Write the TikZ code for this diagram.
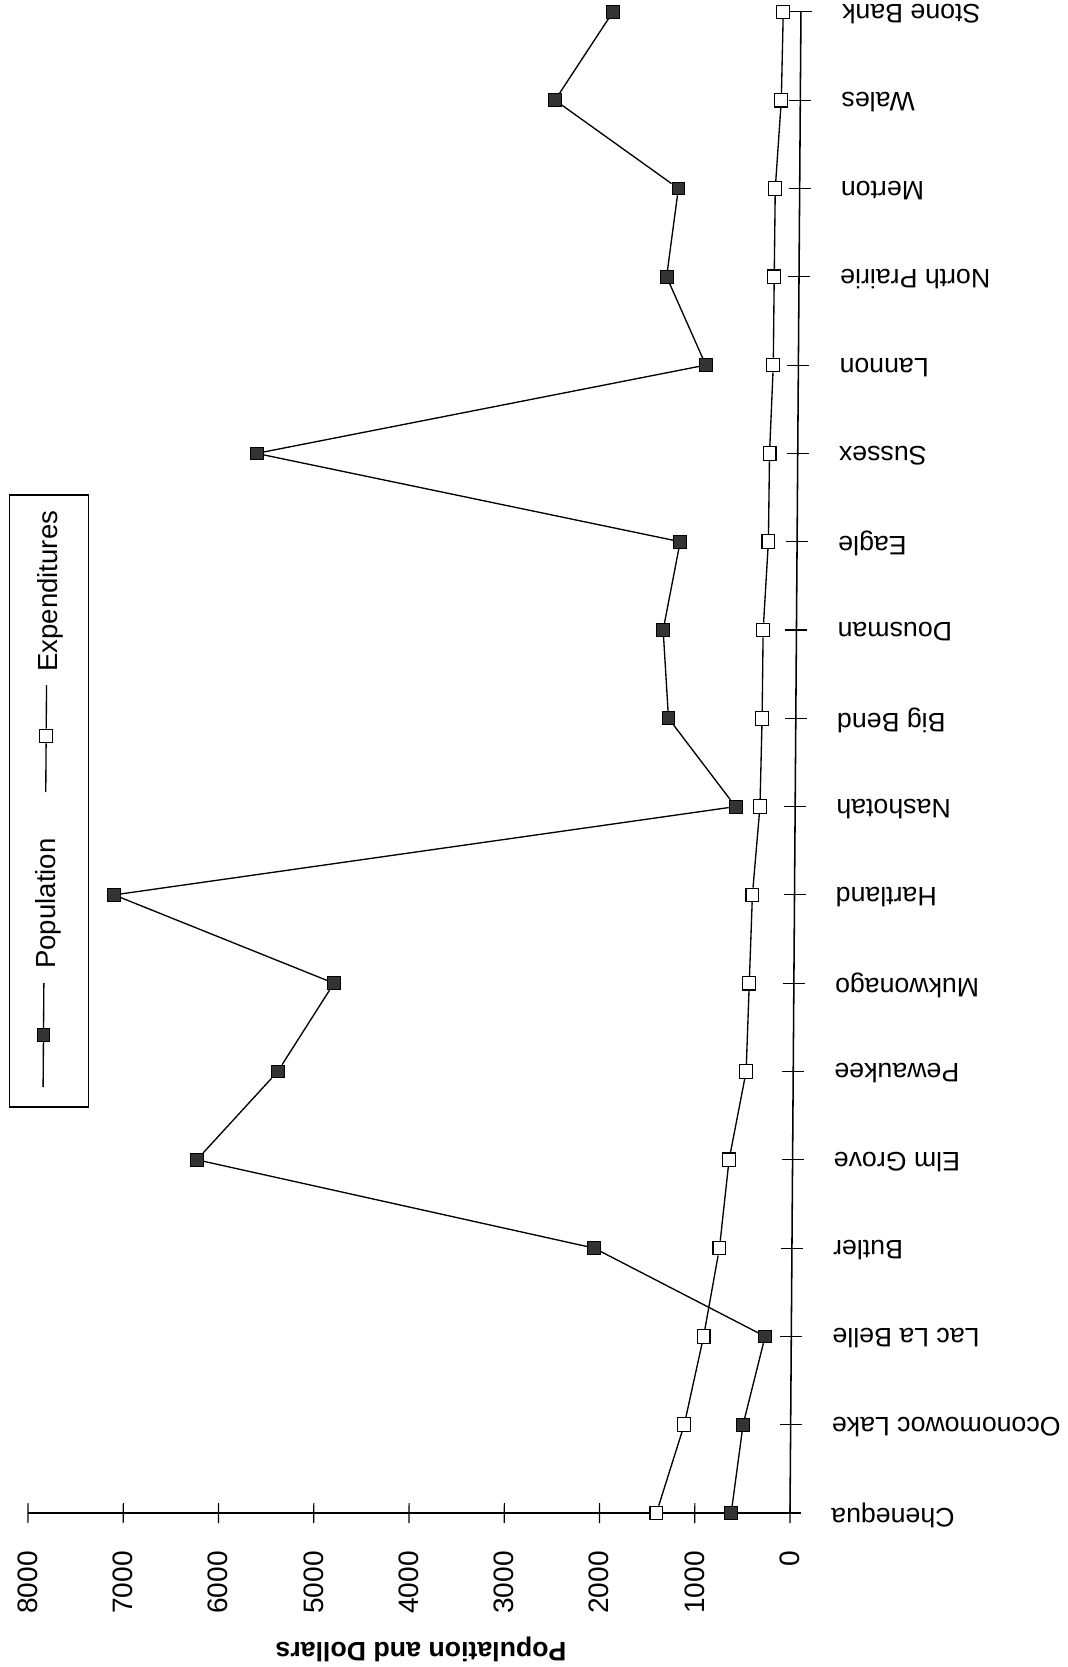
\documentclass[tikz,border=0pt]{standalone}
\usepackage{fontspec}
\setmainfont{Liberation Sans}

\begin{document}
\begin{tikzpicture}[x=0.025cm, y=-0.025cm]
\tikzset{
  axisline/.style={draw, line width=1.6pt},
  tickline/.style={draw, line width=0.8pt},
  dataline/.style={draw, line width=0.95pt},
  popmark/.style={
    rectangle,
    draw=black, fill=black!80,
    minimum size=0.32cm,
    inner sep=0pt, line width=0.6pt},
  expmark/.style={
    rectangle,
    draw=black, fill=white,
    minimum width=0.32cm, minimum height=0.34cm,
    inner sep=0pt, line width=0.8pt},
  catlabel/.style={rotate=180, anchor=east, inner sep=0pt, font=\fontsize{19}{22}\selectfont},
  vallabel/.style={rotate=90, anchor=east, inner sep=0pt, font=\fontsize{20}{22}\selectfont},
  legendtext/.style={rotate=90, anchor=west, inner sep=0pt, font=\fontsize{19.6}{22}\selectfont},
}
\useasboundingbox (0,0) rectangle (1067,1667);

\begin{scope}[shift={(790,1513)}, xslant=0.0073, shift={(-790,-1513)}]
% axes
\draw[axisline] (28,1513) -- (790,1513);
\draw[line width=1.1pt] (790,1513) -- (790,12);
\draw[tickline] (28,1503) -- (28,1523) (123.25,1503) -- (123.25,1523)
  (218.5,1503) -- (218.5,1523) (313.75,1503) -- (313.75,1523)
  (409,1503) -- (409,1523) (504.25,1503) -- (504.25,1523)
  (599.5,1503) -- (599.5,1523) (694.75,1503) -- (694.75,1523)
  (790,1503) -- (790,1523);
\draw[tickline] (779,1513) -- (801,1513) (779,1424.7) -- (801,1424.7)
  (779,1336.4) -- (801,1336.4) (779,1248.1) -- (801,1248.1)
  (779,1159.8) -- (801,1159.8) (779,1071.5) -- (801,1071.5)
  (779,983.2) -- (801,983.2) (779,894.9) -- (801,894.9)
  (779,806.6) -- (801,806.6) (779,718.3) -- (801,718.3)
  (779,630) -- (801,630) (779,541.7) -- (801,541.7)
  (779,453.4) -- (801,453.4) (779,365.1) -- (801,365.1)
  (779,276.8) -- (801,276.8) (779,188.5) -- (801,188.5)
  (779,100.2) -- (801,100.2) (779,11.9) -- (801,11.9);

% value labels
\node[vallabel] (v0) at (790,1551) {0};
\node[vallabel] (v1000) at (694.75,1551) {1000};
\node[vallabel] (v2000) at (599.5,1551) {2000};
\node[vallabel] (v3000) at (504.25,1551) {3000};
\node[vallabel] (v4000) at (409,1551) {4000};
\node[vallabel] (v5000) at (313.75,1551) {5000};
\node[vallabel] (v6000) at (218.5,1551) {6000};
\node[vallabel] (v7000) at (123.25,1551) {7000};
\node[vallabel] (v8000) at (28,1551) {8000};
\node[rotate=180, font=\bfseries\fontsize{19}{22}\selectfont] (vtitle) at (422,1649) {Population and Dollars};

% category labels
\node[catlabel] (chenequa) at (831,1515) {Chenequa};
\node[catlabel] (oconomowoc) at (831,1426.7) {Oconomowoc Lake};
\node[catlabel] (laclabelle) at (831,1338.4) {Lac La Belle};
\node[catlabel] (butler) at (831,1250.1) {Butler};
\node[catlabel] (elmgrove) at (831,1161.8) {Elm Grove};
\node[catlabel] (pewaukee) at (831,1073.5) {Pewaukee};
\node[catlabel] (mukwonago) at (831,985.2) {Mukwonago};
\node[catlabel] (hartland) at (831,896.9) {Hartland};
\node[catlabel] (nashotah) at (831,808.6) {Nashotah};
\node[catlabel] (bigbend) at (831,720.3) {Big Bend};
\node[catlabel] (dousman) at (831,632) {Dousman};
\node[catlabel] (eagle) at (831,543.7) {Eagle};
\node[catlabel] (sussex) at (831,455.4) {Sussex};
\node[catlabel] (lannon) at (831,367.1) {Lannon};
\node[catlabel] (northprairie) at (831,278.8) {North Prairie};
\node[catlabel] (merton) at (831,190.5) {Merton};
\node[catlabel] (wales) at (831,102.2) {Wales};
\node[catlabel] (stonebank) at (831,13.9) {Stone Bank};

% population
\node[popmark] (p1) at (731.2,1513) {};
\node[popmark] (p2) at (742.4,1424.7) {};
\node[popmark] (p3) at (763.8,1336.4) {};
\node[popmark] (p4) at (592.2,1248.1) {};
\node[popmark] (p5) at (194.3,1159.8) {};
\node[popmark] (p6) at (274.5,1071.5) {};
\node[popmark] (p7) at (330.1,983.2) {};
\node[popmark] (p8) at (109.5,894.9) {};
\node[popmark] (p9) at (730.4,806.6) {};
\node[popmark] (p10) at (662.7,718.3) {};
\node[popmark] (p11) at (656.7,630) {};
\node[popmark] (p12) at (673.1,541.7) {};
\node[popmark] (p13) at (248.8,453.4) {};
\node[popmark] (p14) at (697.4,365.1) {};
\node[popmark] (p15) at (657.6,276.8) {};
\node[popmark] (p16) at (668.7,188.5) {};
\node[popmark] (p17) at (544.7,100.2) {};
\node[popmark] (p18) at (602,11.9) {};
\draw[dataline] (p1) -- (p2) -- (p3) -- (p4) -- (p5) -- (p6) -- (p7) -- (p8) -- (p9)
  -- (p10) -- (p11) -- (p12) -- (p13) -- (p14) -- (p15) -- (p16) -- (p17) -- (p18);

% expenditures
\node[expmark] (e1) at (656.4,1513) {};
\node[expmark] (e2) at (683.6,1424.7) {};
\node[expmark] (e3) at (702.3,1336.4) {};
\node[expmark] (e4) at (717.5,1248.1) {};
\node[expmark] (e5) at (726.5,1159.8) {};
\node[expmark] (e6) at (742.9,1071.5) {};
\node[expmark] (e7) at (745.4,983.2) {};
\node[expmark] (e8) at (747.9,894.9) {};
\node[expmark] (e9) at (754.8,806.6) {};
\node[expmark] (e10) at (756.3,718.3) {};
\node[expmark] (e11) at (756.7,630) {};
\node[expmark] (e12) at (761.3,541.7) {};
\node[expmark] (e13) at (761.8,453.4) {};
\node[expmark] (e14) at (764.9,365.1) {};
\node[expmark] (e15) at (765.2,276.8) {};
\node[expmark] (e16) at (765.6,188.5) {};
\node[expmark] (e17) at (771,100.2) {};
\node[expmark] (e18) at (772.3,11.9) {};
\draw[dataline] (e1) -- (e2) -- (e3) -- (e4) -- (e5) -- (e6) -- (e7) -- (e8) -- (e9)
  -- (e10) -- (e11) -- (e12) -- (e13) -- (e14) -- (e15) -- (e16) -- (e17) -- (e18);

% legend
\node[draw, line width=0.9pt, minimum width=1.975cm, minimum height=15.3cm, inner sep=0pt] (legend) at (43.5,801) {};
\node[popmark] (lpop) at (40,1035) {};
\coordinate (lpopa) at (40,983);
\coordinate (lpopb) at (40,1087);
\draw[dataline] (lpopa) -- (lpop) -- (lpopb);
\node[legendtext] (lpoptext) at (44,969) {Population};
\node[expmark] (lexp) at (40.5,736) {};
\coordinate (lexpa) at (40.5,685);
\coordinate (lexpb) at (40.5,792);
\draw[dataline] (lexpa) -- (lexp) -- (lexpb);
\node[legendtext] (lexptext) at (44.5,672) {Expenditures};
\end{scope}

\end{tikzpicture}
\end{document}
